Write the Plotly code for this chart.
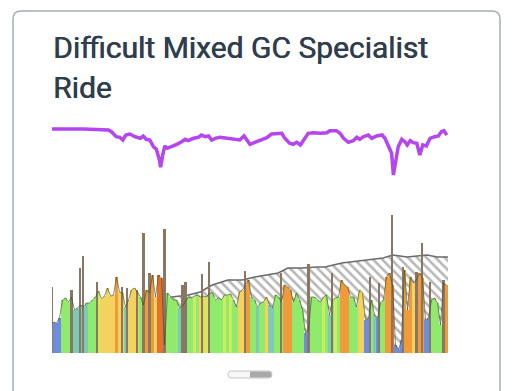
import numpy as np
import plotly.graph_objects as go

# page body has an 8px margin, so the figure is sized to fit the window
OFF = 8
W, H = 512 - OFF, 391 - OFF

# ---------------- data ----------------
title_line1 = "Difficult Mixed GC Specialist"
title_line2 = "Ride"

# power per 30 s interval (W) and interval zone (1..7)
power_w = [93, 90, 105, 159, 165, 153, 168, 129, 135, 144, 138, 150, 150, 159, 168, 186,
           162, 171, 195, 171, 174, 228, 183, 180, 138, 159, 189, 195, 183, 168, 144, 189,
           180, 234, 168, 234, 225, 24, 180, 168, 159, 159, 135, 141, 153, 168, 165, 171,
           174, 168, 171, 168, 180, 180, 159, 165, 159, 174, 174, 177, 159, 138, 183, 189,
           204, 219, 168, 159, 138, 150, 153, 168, 144, 135, 174, 168, 153, 204, 198, 189,
           153, 180, 159, 129, 60, 69, 168, 168, 159, 153, 168, 174, 114, 159, 165, 168,
           219, 204, 198, 168, 168, 138, 189, 180, 99, 105, 159, 114, 105, 150, 159, 228,
           240, 204, 24, 9, 39, 249, 129, 228, 210, 219, 240, 225, 99, 105, 159, 165,
           150, 84, 210, 204]
zones = [1, 1, 1, 3, 3, 3, 3, 2, 2, 2, 2, 2, 3, 3, 3, 4,
         5, 5, 5, 5, 5, 6, 5, 5, 2, 5, 5, 5, 5, 3, 3, 6,
         5, 6, 5, 7, 7, 7, 3, 3, 3, 3, 2, 2, 3, 3, 3, 4,
         3, 5, 5, 4, 3, 3, 3, 3, 3, 4, 3, 4, 3, 3, 5, 5,
         6, 6, 3, 3, 2, 3, 3, 5, 2, 2, 3, 3, 3, 6, 6, 6,
         3, 3, 3, 3, 1, 1, 3, 3, 3, 3, 4, 3, 2, 3, 4, 3,
         6, 6, 6, 3, 3, 3, 5, 5, 1, 1, 3, 2, 1, 3, 3, 6,
         6, 7, 1, 1, 1, 6, 6, 6, 5, 6, 6, 6, 1, 1, 3, 3,
         3, 3, 6, 6]
interval_min = 0.5
ride_minutes = 66

# 1-second power spikes (minute, W)
spike_min = [0.0, 3.3, 4.7, 5.2, 7.5, 11.7, 12.5, 14.2, 15.3, 16.3, 18.8, 21.8, 22.3, 25.0,
             26.2, 32.2, 38.2, 42.8, 46.7, 53.0, 54.5, 56.7, 58.5, 60.8, 61.7, 63.0, 65.3]
spike_w = [198, 189, 255, 291, 213, 198, 195, 189, 360, 240, 372, 204, 213, 237,
           273, 246, 240, 267, 240, 228, 210, 414, 258, 243, 330, 213, 219]

# elevation profile (minute, m)
elev_min = [18.0, 18.5, 20.0, 22.7, 24.7, 26.7, 29.3, 31.7, 33.8, 37.7, 39.3, 41.7, 44.2,
            45.5, 48.3, 49.7, 55.2, 56.8, 59.2, 62.5, 64.2, 66.0]
elev_m = [0, 106, 112, 116, 122, 136, 146, 146, 152, 160, 170, 170, 172,
          172, 180, 182, 190, 196, 192, 196, 192, 192]

# cadence trace (minute, rpm)
cad_min = [0, 5.2, 9.4, 9.9, 10.7, 11.3, 11.8, 12.3, 13, 13.8, 14.7, 15.2, 15.7, 16.3, 16.9,
           17.4, 17.9, 18.1, 18.4, 18.8, 19.2, 19.9, 20.8, 21.6, 22.2, 22.7, 23.6, 24.4, 24.9,
           25.5, 26.1, 26.6, 27.2, 28, 29.1, 29.9, 30.8, 31.3, 32, 32.4, 33, 33.8, 34.7, 35.8,
           36.6, 37.6, 38.3, 38.8, 39.6, 40.2, 40.8, 41.4, 42.2, 42.7, 43.6, 44.7, 45.8, 46.3,
           47.4, 48, 48.6, 49.4, 50.2, 50.8, 51.3, 51.9, 52.7, 53.3, 54.1, 55, 55.5, 56.1, 56.6,
           56.9, 57.2, 57.7, 58.3, 58.8, 59.2, 59.7, 60.2, 60.8, 61.3, 61.8, 62.4, 63, 63.8,
           64.4, 64.9, 65.3, 65.8]
cad_rpm = [100, 100, 99, 97.3, 92.3, 91.7, 89, 94, 95, 92.3, 90.7, 93, 89.7, 89, 82.3,
           79.7, 69, 61.7, 72.3, 83, 80.7, 82.3, 84.7, 87.3, 89.7, 88.3, 90.7, 91.7, 94,
           92.3, 93, 89, 90.7, 91.7, 90.7, 90, 89.7, 89, 93, 89, 84.7, 86.7, 89, 91.3,
           95, 95.7, 95.7, 90.7, 85.7, 84.7, 86.7, 84, 90.7, 95.7, 96.3, 95.7, 96.3, 98.3,
           98.3, 95.7, 90.7, 86.7, 88.3, 91.7, 89.7, 92.3, 94, 90.7, 93, 94, 90.7, 82.3, 75.7,
           54, 65.7, 82.3, 89.7, 87.3, 84, 88.3, 86.3, 85.7, 74, 84, 83, 90.7, 92.3,
           93, 97.3, 98.3, 94]

# ---------------- styling ----------------
zone_colors = {1: "#6d8ee0", 2: "#7ecbb5", 3: "#90ea6c", 4: "#cdec62",
               5: "#f3d25e", 6: "#f19a3a", 7: "#e9702a"}


def X(px):
    return (px - OFF) / W


def Y(py):
    return 1 - (py - OFF) / H


x_dom = [X(52), X(448)]
bar_dom = [Y(353), Y(205)]
cad_dom = [Y(185), Y(120)]

bar_x = interval_min * (np.arange(len(power_w)) + 0.5)

fig = go.Figure()

# elevation (base subplot, drawn underneath)
fig.add_trace(go.Scatter(
    x=elev_min, y=elev_m, xaxis="x", yaxis="y", mode="lines",
    line=dict(color="#6a6a6a", width=1.5),
    fill="tozeroy", fillcolor="white",
    fillpattern=dict(shape="\\", fgcolor="#707070", bgcolor="white", size=6.5, solidity=0.4),
    hoverinfo="skip", showlegend=False))

# power bars (overlay subplot, drawn on top)
fig.add_trace(go.Bar(
    x=bar_x, y=power_w, width=interval_min, xaxis="x", yaxis="y2",
    marker=dict(color=[zone_colors[z] for z in zones], line=dict(width=0)),
    showlegend=False, hoverinfo="skip"))
fig.add_trace(go.Bar(
    x=spike_min, y=spike_w, width=0.33, xaxis="x", yaxis="y2",
    marker=dict(color="#8a7664", line=dict(width=0)),
    showlegend=False, hoverinfo="skip"))
fig.add_trace(go.Scatter(
    x=bar_x, y=power_w, xaxis="x", yaxis="y2", mode="lines",
    line=dict(color="rgba(60,80,40,0.65)", width=1),
    showlegend=False, hoverinfo="skip"))

# cadence line
fig.add_trace(go.Scatter(
    x=cad_min, y=cad_rpm, xaxis="x3", yaxis="y3", mode="lines",
    line=dict(color="#b445ef", width=3.5),
    showlegend=False, hoverinfo="skip"))

ax_common = dict(visible=False, showgrid=False, zeroline=False, fixedrange=True)

fig.update_layout(
    width=W, height=H,
    margin=dict(l=0, r=0, t=0, b=0),
    paper_bgcolor="white", plot_bgcolor="rgba(0,0,0,0)",
    barmode="overlay", bargap=0,
    xaxis=dict(domain=x_dom, range=[0, ride_minutes], **ax_common),
    yaxis=dict(domain=bar_dom, range=[0, 296], **ax_common),
    yaxis2=dict(domain=bar_dom, range=[0, 444], overlaying="y", **ax_common),
    xaxis3=dict(domain=x_dom, range=[0, ride_minutes], anchor="y3", **ax_common),
    yaxis3=dict(domain=cad_dom, range=[44, 109], anchor="x3", **ax_common),
)

# card outline
r = 8
cx0, cx1, cy0, cy1 = 13, 500, 11, 400
card_path = (f"M {X(cx0 + r)},{Y(cy0)} L {X(cx1 - r)},{Y(cy0)} "
             f"Q {X(cx1)},{Y(cy0)} {X(cx1)},{Y(cy0 + r)} L {X(cx1)},{Y(cy1)} "
             f"L {X(cx0)},{Y(cy1)} L {X(cx0)},{Y(cy0 + r)} "
             f"Q {X(cx0)},{Y(cy0)} {X(cx0 + r)},{Y(cy0)} Z")
fig.add_shape(type="path", path=card_path, xref="paper", yref="paper",
              line=dict(color="#a3b0b3", width=1.5), fillcolor="rgba(0,0,0,0)", layer="below")

# slider handle
hx0, hx1, hy0, hy1 = 228, 272, 371, 378
hr = 3.5
handle = (f"M {X(hx0 + hr)},{Y(hy0)} L {X(hx1 - hr)},{Y(hy0)} "
          f"Q {X(hx1)},{Y(hy0)} {X(hx1)},{Y(hy0 + hr)} "
          f"Q {X(hx1)},{Y(hy1)} {X(hx1 - hr)},{Y(hy1)} L {X(hx0 + hr)},{Y(hy1)} "
          f"Q {X(hx0)},{Y(hy1)} {X(hx0)},{Y(hy0 + hr)} "
          f"Q {X(hx0)},{Y(hy0)} {X(hx0 + hr)},{Y(hy0)} Z")
fig.add_shape(type="path", path=handle, xref="paper", yref="paper",
              line=dict(color="#c4c4c4", width=1), fillcolor="#f7f7f7")
right_half = (f"M {X(250)},{Y(hy0 + 0.5)} L {X(hx1 - hr)},{Y(hy0 + 0.5)} "
              f"Q {X(hx1 - 0.5)},{Y(hy0 + 0.5)} {X(hx1 - 0.5)},{Y(hy0 + hr)} "
              f"Q {X(hx1 - 0.5)},{Y(hy1 - 0.5)} {X(hx1 - hr)},{Y(hy1 - 0.5)} "
              f"L {X(250)},{Y(hy1 - 0.5)} Z")
fig.add_shape(type="path", path=right_half, xref="paper", yref="paper",
              line=dict(width=0), fillcolor="#a9a9a9")

title_font = dict(family="Roboto", size=30, color="#2f3d4d", weight=400,
                  shadow="0.6px 0 0 #2f3d4d")
fig.add_annotation(text=title_line1, x=X(51), y=Y(47.5), xref="paper", yref="paper",
                   xanchor="left", yanchor="middle", showarrow=False, font=title_font)
fig.add_annotation(text=title_line2, x=X(51), y=Y(87.5), xref="paper", yref="paper",
                   xanchor="left", yanchor="middle", showarrow=False, font=title_font)

fig.write_html("out.html")
